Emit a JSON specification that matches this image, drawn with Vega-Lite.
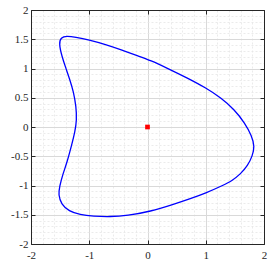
{
  "$schema": "https://vega.github.io/schema/vega-lite/v6.json",
  "width": 233,
  "height": 234,
  "autosize": {"type": "none"},
  "padding": {"left": 31, "top": 10, "right": 9, "bottom": 22},
  "background": "white",
  "config": {
    "view": {"stroke": "#262626", "strokeWidth": 1},
    "axis": {"labelFont": "Liberation Serif", "labelFontSize": 11, "labelColor": "#262626", "title": null}
  },
  "datasets": {
    "curve": [
      {"i": 1, "x": 0.33, "y": 1.01},
      {"i": 2, "x": 0.68, "y": 0.84},
      {"i": 3, "x": 1.0, "y": 0.67},
      {"i": 4, "x": 1.26, "y": 0.50},
      {"i": 5, "x": 1.49, "y": 0.30},
      {"i": 6, "x": 1.67, "y": 0.07},
      {"i": 7, "x": 1.79, "y": -0.15},
      {"i": 8, "x": 1.84, "y": -0.33},
      {"i": 9, "x": 1.80, "y": -0.50},
      {"i": 10, "x": 1.72, "y": -0.66},
      {"i": 11, "x": 1.60, "y": -0.80},
      {"i": 12, "x": 1.45, "y": -0.92},
      {"i": 13, "x": 1.29, "y": -1.0},
      {"i": 14, "x": 1.0, "y": -1.13},
      {"i": 15, "x": 0.72, "y": -1.23},
      {"i": 16, "x": 0.45, "y": -1.32},
      {"i": 17, "x": 0.05, "y": -1.445},
      {"i": 18, "x": -0.35, "y": -1.515},
      {"i": 19, "x": -0.64, "y": -1.535},
      {"i": 20, "x": -0.93, "y": -1.525},
      {"i": 21, "x": -1.16, "y": -1.50},
      {"i": 22, "x": -1.35, "y": -1.44},
      {"i": 23, "x": -1.48, "y": -1.32},
      {"i": 24, "x": -1.53, "y": -1.16},
      {"i": 25, "x": -1.51, "y": -1.02},
      {"i": 26, "x": -1.455, "y": -0.81},
      {"i": 27, "x": -1.38, "y": -0.60},
      {"i": 28, "x": -1.30, "y": -0.30},
      {"i": 29, "x": -1.245, "y": -0.08},
      {"i": 30, "x": -1.215, "y": 0.12},
      {"i": 31, "x": -1.225, "y": 0.35},
      {"i": 32, "x": -1.27, "y": 0.60},
      {"i": 33, "x": -1.33, "y": 0.80},
      {"i": 34, "x": -1.40, "y": 1.0},
      {"i": 35, "x": -1.47, "y": 1.21},
      {"i": 36, "x": -1.52, "y": 1.42},
      {"i": 37, "x": -1.49, "y": 1.53},
      {"i": 38, "x": -1.385, "y": 1.555},
      {"i": 39, "x": -1.24, "y": 1.535},
      {"i": 40, "x": -1.01, "y": 1.49},
      {"i": 41, "x": -0.72, "y": 1.41},
      {"i": 42, "x": -0.44, "y": 1.315},
      {"i": 43, "x": -0.15, "y": 1.21},
      {"i": 44, "x": 0.05, "y": 1.14}
    ],
    "center": [{"x": 0, "y": 0}]
  },
  "layer": [
    {
      "data": {"name": "curve"},
      "mark": {"type": "line", "opacity": 0},
      "encoding": {
        "x": {"field": "x", "type": "quantitative", "scale": {"domain": [-2, 2], "nice": false, "zero": false},
          "axis": {"orient": "bottom", "values": [-1.8, -1.6, -1.4, -1.2, -0.8, -0.6, -0.4, -0.2, 0.2, 0.4, 0.6, 0.8, 1.2, 1.4, 1.6, 1.8],
            "labels": false, "ticks": false, "domain": false, "grid": true, "gridColor": "#e6e6e6", "gridDash": [2, 2], "gridWidth": 0.8}},
        "y": {"field": "y", "type": "quantitative", "scale": {"domain": [-2, 2], "nice": false, "zero": false},
          "axis": {"orient": "left", "values": [-1.9, -1.8, -1.7, -1.6, -1.4, -1.3, -1.2, -1.1, -0.9, -0.8, -0.7, -0.6, -0.4, -0.3, -0.2, -0.1, 0.1, 0.2, 0.3, 0.4, 0.6, 0.7, 0.8, 0.9, 1.1, 1.2, 1.3, 1.4, 1.6, 1.7, 1.8, 1.9],
            "labels": false, "ticks": false, "domain": false, "grid": true, "gridColor": "#e6e6e6", "gridDash": [2, 2], "gridWidth": 0.8}},
        "order": {"field": "i", "type": "quantitative"}
      }
    },
    {
      "data": {"name": "curve"},
      "mark": {"type": "line", "interpolate": "basis-closed", "color": "#0000ff", "strokeWidth": 1.3},
      "encoding": {
        "x": {"field": "x", "type": "quantitative",
          "axis": {"orient": "bottom", "values": [-2, -1, 0, 1, 2], "labelExpr": "'' + datum.value",
            "grid": true, "gridColor": "#d9d9d9", "gridWidth": 1,
            "tickSize": -4, "tickColor": "#262626", "labelPadding": 9, "domainColor": "#262626", "labelFlush": false}},
        "y": {"field": "y", "type": "quantitative",
          "axis": {"orient": "left", "values": [-2, -1.5, -1, -0.5, 0, 0.5, 1, 1.5, 2], "labelExpr": "'' + datum.value",
            "grid": true, "gridColor": "#d9d9d9", "gridWidth": 1,
            "tickSize": -4, "tickColor": "#262626", "labelPadding": 7, "domainColor": "#262626", "labelFlush": false}},
        "order": {"field": "i", "type": "quantitative"}
      }
    },
    {
      "data": {"name": "center"},
      "mark": {"type": "point", "shape": "square", "filled": true, "color": "#ff0000", "size": 22, "opacity": 1},
      "encoding": {
        "x": {"field": "x", "type": "quantitative",
          "axis": {"orient": "top", "values": [-2, -1, 0, 1, 2], "labels": false, "grid": false, "tickSize": -4, "tickColor": "#262626", "domainColor": "#262626"}},
        "y": {"field": "y", "type": "quantitative",
          "axis": {"orient": "right", "values": [-2, -1.5, -1, -0.5, 0, 0.5, 1, 1.5, 2], "labels": false, "grid": false, "tickSize": -4, "tickColor": "#262626", "domainColor": "#262626"}}
      }
    }
  ],
  "resolve": {"axis": {"x": "independent", "y": "independent"}}
}
